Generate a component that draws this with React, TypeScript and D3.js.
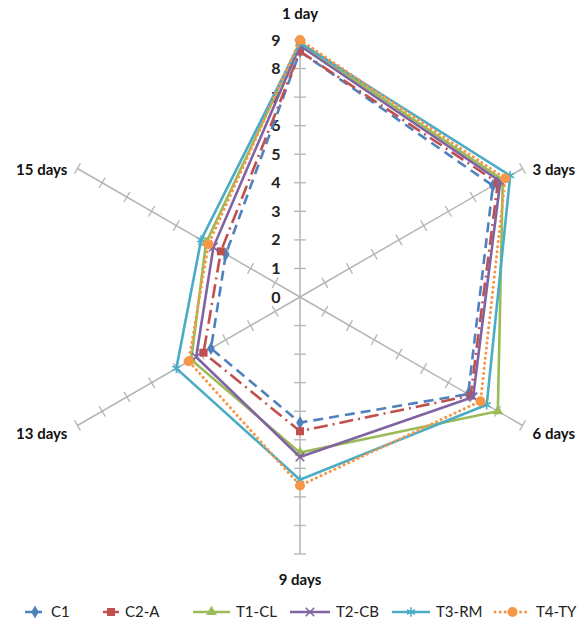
import React from "react";
import * as d3 from "d3";

const categories = ["1 day", "3 days", "6 days", "9 days", "13 days", "15 days"];
const seriesNames = ["C1", "C2-A", "T1-CL", "T2-CB", "T3-RM", "T4-TY"];
const c1 = [8.6, 7.8, 6.8, 4.4, 3.6, 3.0];
const c2a = [8.6, 8.0, 6.9, 4.7, 3.9, 3.2];
const t1cl = [8.9, 8.2, 8.0, 5.45, 4.4, 3.8];
const t2cb = [8.8, 8.1, 7.0, 5.6, 4.2, 3.5];
const t3rm = [8.9, 8.5, 7.55, 6.4, 5.0, 4.0];
const t4ty = [9.0, 8.3, 7.3, 6.6, 4.5, 3.7];
const tickValues = [0, 1, 2, 3, 4, 5, 6, 7, 8, 9];

const W = 581;
const H = 625;
const cx = 300;
const cy = 297;
const maxR = 257;

const r = d3.scaleLinear().domain([0, 9]).range([0, maxR]);
const angle = d3
  .scalePoint<string>()
  .domain(categories)
  .range([0, (2 * Math.PI * (categories.length - 1)) / categories.length]);

type Style = {
  color: string;
  dash: string;
  cap: "butt" | "round";
  marker: "diamond" | "square" | "triangle" | "x" | "star" | "circle";
};

const styles: Style[] = [
  { color: "#4F81BD", dash: "10,6", cap: "butt", marker: "diamond" },
  { color: "#C0504D", dash: "14,5,2,5", cap: "butt", marker: "square" },
  { color: "#9BBB59", dash: "", cap: "butt", marker: "triangle" },
  { color: "#8064A2", dash: "", cap: "butt", marker: "x" },
  { color: "#4BACC6", dash: "", cap: "butt", marker: "star" },
  { color: "#F79646", dash: "0.1,5", cap: "round", marker: "circle" },
];

const seriesValues = [c1, c2a, t1cl, t2cb, t3rm, t4ty];

const pt = (cat: string, v: number): [number, number] => {
  const a = angle(cat) as number;
  return [cx + r(v) * Math.sin(a), cy - r(v) * Math.cos(a)];
};

const symbolFor: Record<string, d3.SymbolType> = {
  diamond: d3.symbolDiamond,
  square: d3.symbolSquare,
  triangle: d3.symbolTriangle,
  x: d3.symbolX,
  star: d3.symbolAsterisk,
  circle: d3.symbolCircle,
};
const sizeFor: Record<string, number> = {
  diamond: 50,
  square: 64,
  triangle: 50,
  x: 50,
  star: 60,
  circle: 80,
};

function Marker({ x, y, s }: { x: number; y: number; s: Style }) {
  const d = d3.symbol(symbolFor[s.marker], sizeFor[s.marker])() || "";
  const stroked = s.marker === "x" || s.marker === "star";
  return (
    <path
      d={d}
      transform={`translate(${x},${y})`}
      fill={stroked ? "none" : s.color}
      stroke={s.color}
      strokeWidth={stroked ? 1.5 : 0}
    />
  );
}

const labelFont = "Lato, 'Open Sans', sans-serif";

const lineGen = d3
  .lineRadial<number>()
  .angle((_, i) => angle(categories[i]) as number)
  .radius((v) => r(v))
  .curve(d3.curveLinearClosed);

// axis label placement relative to each spoke end
const labelPos: { dx: number; dy: number; anchor: string }[] = [
  { dx: 0, dy: -26, anchor: "middle" },
  { dx: 10, dy: 1, anchor: "start" },
  { dx: 10, dy: 8, anchor: "start" },
  { dx: 0, dy: 26, anchor: "middle" },
  { dx: -10, dy: 8, anchor: "end" },
  { dx: -10, dy: 1, anchor: "end" },
];

const legendX = [25, 103, 193, 290, 392, 495];
const legendLineW = [20, 16, 37, 40, 38, 35];

export default function App() {
  return (
    <svg
      width={W}
      height={H}
      style={{ position: "absolute", left: 0, top: 0, background: "#fff" }}
    >
      {/* spokes with tick marks */}
      {categories.map((cat) => {
        const [x2, y2] = pt(cat, 9);
        const a = angle(cat) as number;
        const ux = Math.sin(a);
        const uy = -Math.cos(a);
        const px = -uy;
        const py = ux;
        return (
          <g key={cat}>
            <line x1={cx} y1={cy} x2={x2} y2={y2} stroke="#b5b5b5" strokeWidth={1.5} />
            {tickValues.slice(1).map((t) => {
              const [tx, ty] = pt(cat, t);
              return (
                <line
                  key={t}
                  x1={tx - px * 6}
                  y1={ty - py * 6}
                  x2={tx + px * 6}
                  y2={ty + py * 6}
                  stroke="#b5b5b5"
                  strokeWidth={1.3}
                />
              );
            })}
          </g>
        );
      })}

      {/* radial value labels on the first spoke */}
      {tickValues.map((t) => (
        <text
          key={t}
          x={cx - 24}
          y={cy - r(t)}
          dy="0.35em"
          textAnchor="middle"
          fontFamily={labelFont}
          fontWeight="bold"
          fontSize={16}
          fill="#222"
        >
          {t}
        </text>
      ))}

      {/* series */}
      {seriesValues.map((vals, si) => {
        const s = styles[si];
        return (
          <g key={seriesNames[si]}>
            <path
              d={lineGen(vals) || ""}
              transform={`translate(${cx},${cy})`}
              fill="none"
              stroke={s.color}
              strokeWidth={s.marker === "circle" ? 3 : 2.6}
              strokeDasharray={s.dash || undefined}
              strokeLinecap={s.cap}
              strokeLinejoin="miter"
            />
            {vals.map((v, i) => {
              const [x, y] = pt(categories[i], v);
              return <Marker key={i} x={x} y={y} s={s} />;
            })}
          </g>
        );
      })}

      {/* category labels */}
      {categories.map((cat, i) => {
        const [x, y] = pt(cat, 9);
        const lp = labelPos[i];
        return (
          <text
            key={cat}
            x={x + lp.dx}
            y={y + lp.dy}
            dy="0.35em"
            textAnchor={lp.anchor}
            fontFamily={labelFont}
            fontWeight="bold"
            fontSize={15}
            fill="#111"
          >
            {cat}
          </text>
        );
      })}

      {/* legend */}
      {seriesNames.map((name, si) => {
        const s = styles[si];
        const x0 = legendX[si];
        const lw = legendLineW[si];
        const y = 612;
        return (
          <g key={name}>
            <line
              x1={x0}
              y1={y}
              x2={x0 + lw}
              y2={y}
              stroke={s.color}
              strokeWidth={s.marker === "circle" ? 3 : 2.6}
              strokeDasharray={s.dash ? (si === 0 ? "7,3" : si === 1 ? "9,3" : s.dash) : undefined}
              strokeLinecap={s.cap}
            />
            <Marker x={x0 + lw / 2} y={y} s={s} />
            <text
              x={x0 + lw + 6}
              y={y}
              dy="0.35em"
              fontFamily={labelFont}
              fontSize={15}
              fill="#222"
            >
              {name}
            </text>
          </g>
        );
      })}
    </svg>
  );
}
